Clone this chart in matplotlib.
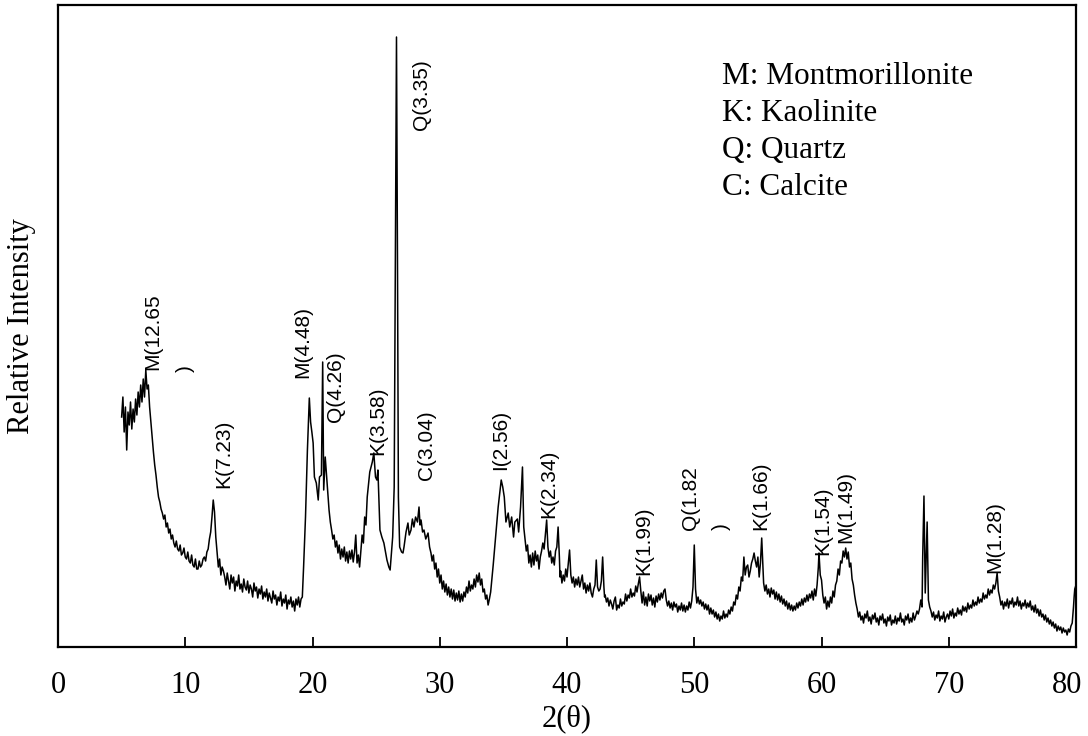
import matplotlib
matplotlib.use("Agg")
import matplotlib.pyplot as plt
import matplotlib.transforms as mtransforms
import numpy as np

# XRD pattern, region by region: (2-theta, intensity)
seg_clay = [
    (5.0, 230), (5.1, 250), (5.2, 215), (5.3, 240), (5.4, 197), (5.5, 235), (5.6, 222), (5.7, 245),
    (5.8, 218), (5.9, 238), (6.0, 225), (6.1, 248), (6.2, 232), (6.3, 255), (6.4, 240), (6.5, 262),
    (6.6, 245), (6.7, 268), (6.8, 250), (6.9, 277), (7.0, 258), (7.1, 262), (7.2, 240), (7.3, 225),
    (7.4, 210), (7.5, 195), (7.6, 182), (7.7, 172), (7.8, 160), (7.9, 150), (8.0, 145), (8.1, 138),
    (8.2, 134), (8.3, 128), (8.4, 132), (8.5, 120), (8.6, 124), (8.7, 114), (8.8, 118), (8.9, 108),
    (9.0, 112), (9.1, 104), (9.2, 100), (9.3, 106), (9.4, 98), (9.5, 96), (9.6, 102), (9.7, 92),
    (9.8, 94), (9.9, 99), (10.0, 90), (10.1, 88), (10.2, 95), (10.3, 86), (10.4, 84), (10.5, 92),
    (10.6, 82), (10.7, 80), (10.8, 88), (10.9, 78), (11.0, 78), (11.1, 86), (11.2, 80), (11.3, 82),
    (11.4, 88), (11.5, 90), (11.6, 86), (11.7, 95), (11.8, 98), (11.9, 108), (12.0, 115), (12.1, 130),
    (12.2, 147), (12.3, 135), (12.4, 110), (12.5, 95), (12.6, 80), (12.7, 88), (12.8, 72), (12.9, 80),
    (13.0, 76),
]
seg_baseline = [
    (13.1, 70), (13.2, 62), (13.3, 74), (13.4, 66), (13.5, 58), (13.6, 72), (13.7, 64), (13.8, 70),
    (13.9, 56), (14.0, 66), (14.1, 61), (14.2, 72), (14.3, 58), (14.4, 63), (14.5, 55), (14.6, 68),
    (14.7, 60), (14.8, 57), (14.9, 66), (15.0, 54), (15.1, 62), (15.2, 58), (15.3, 50), (15.4, 64),
    (15.5, 56), (15.6, 60), (15.7, 49), (15.8, 58), (15.9, 53), (16.0, 61), (16.1, 48), (16.2, 55),
    (16.3, 50), (16.4, 58), (16.5, 46), (16.6, 54), (16.7, 49), (16.8, 44), (16.9, 56), (17.0, 48),
    (17.1, 52), (17.2, 42), (17.3, 50), (17.4, 46), (17.5, 55), (17.6, 41), (17.7, 48), (17.8, 44),
    (17.9, 52), (18.0, 38), (18.1, 47), (18.2, 43), (18.3, 50), (18.4, 40), (18.5, 46), (18.6, 36),
    (18.7, 48), (18.8, 42), (18.9, 50), (19.0, 40), (19.1, 48),
]
seg_main = [
    (19.2, 50), (19.3, 80), (19.45, 130), (19.6, 197), (19.75, 249), (19.85, 225), (19.95, 215),
    (20.05, 204), (20.15, 170), (20.3, 164), (20.45, 147), (20.55, 170), (20.7, 172), (20.8, 285),
    (20.88, 157), (21.0, 190), (21.15, 164), (21.3, 137), (21.4, 125), (21.5, 117), (21.6, 108),
    (21.7, 112), (21.8, 100), (21.9, 106), (22.0, 94), (22.1, 102), (22.2, 88), (22.3, 98), (22.4, 90),
    (22.5, 100), (22.6, 86), (22.7, 95), (22.8, 84), (22.9, 96), (23.0, 88), (23.1, 97), (23.2, 85),
    (23.3, 95), (23.4, 112), (23.5, 84), (23.6, 92), (23.7, 80), (23.8, 96), (23.9, 112), (24.0, 104),
    (24.1, 130), (24.2, 122), (24.3, 150), (24.5, 175), (24.7, 185), (24.82, 194), (24.95, 170),
    (25.06, 167), (25.14, 177), (25.3, 117), (25.45, 110), (25.61, 104), (25.85, 87), (26.0, 80),
    (26.1, 77), (26.3, 110), (26.42, 160), (26.52, 400), (26.6, 610), (26.68, 380), (26.75, 150),
    (26.85, 100), (27.0, 95), (27.11, 94), (27.19, 100), (27.35, 115), (27.5, 124), (27.6, 112),
    (27.74, 117), (27.85, 128), (27.97, 120), (28.1, 130), (28.25, 125), (28.37, 140), (28.45, 122),
    (28.53, 127), (28.65, 115), (28.76, 117), (28.9, 108), (29.08, 114), (29.2, 100), (29.31, 94),
    (29.4, 86), (29.5, 92), (29.6, 78), (29.7, 84), (29.8, 70), (29.9, 78), (30.0, 64), (30.1, 72),
    (30.2, 58), (30.3, 66), (30.4, 55), (30.5, 63), (30.6, 52), (30.7, 60), (30.8, 50), (30.9, 58),
    (31.0, 48), (31.1, 57), (31.2, 46), (31.3, 54), (31.4, 47), (31.5, 56), (31.6, 45), (31.7, 53),
    (31.8, 46), (31.9, 55), (32.0, 50), (32.1, 60), (32.2, 54), (32.3, 66), (32.4, 56), (32.5, 62),
    (32.6, 58), (32.7, 68), (32.8, 60), (32.9, 72), (33.0, 65), (33.1, 74), (33.2, 62), (33.3, 68),
    (33.4, 55), (33.5, 58), (33.6, 48), (33.7, 52), (33.8, 42), (33.9, 48), (34.0, 55), (34.1, 68),
    (34.2, 82),
]
seg_mid = [
    (34.28, 94), (34.45, 120), (34.59, 140), (34.83, 167), (34.95, 160), (35.07, 150), (35.2, 125),
    (35.38, 134), (35.5, 120), (35.65, 130), (35.8, 110), (35.9, 125), (36.1, 128), (36.2, 115),
    (36.35, 140), (36.5, 180), (36.6, 120), (36.7, 108), (36.8, 96), (36.9, 102), (37.0, 84),
    (37.1, 92), (37.2, 80), (37.3, 94), (37.4, 82), (37.5, 96), (37.6, 86), (37.7, 92), (37.8, 78),
    (37.9, 90), (38.0, 96), (38.1, 104), (38.2, 98), (38.3, 112), (38.4, 127), (38.5, 100), (38.6, 90),
    (38.7, 96), (38.8, 84), (38.9, 90), (39.0, 82), (39.1, 96), (39.2, 100), (39.3, 120), (39.4, 90),
    (39.45, 70), (39.5, 76), (39.6, 64), (39.7, 72), (39.8, 66), (39.9, 78), (40.0, 70), (40.1, 84),
    (40.2, 97), (40.3, 72), (40.4, 64), (40.5, 70), (40.6, 60), (40.7, 68), (40.8, 62), (40.9, 70),
    (41.0, 60), (41.1, 66), (41.2, 72), (41.3, 58), (41.4, 64), (41.5, 54), (41.6, 62), (41.7, 56),
    (41.8, 64), (41.9, 54), (42.0, 50), (42.1, 58), (42.2, 62), (42.3, 87), (42.4, 60), (42.5, 56),
    (42.6, 58), (42.7, 66), (42.8, 90), (42.9, 60), (42.95, 50),
    (43.0, 52), (43.1, 45), (43.2, 49), (43.3, 41), (43.4, 47), (43.5, 43), (43.6, 38), (43.7, 46),
    (43.8, 50), (43.9, 37), (44.0, 42), (44.1, 39), (44.2, 48), (44.3, 41), (44.4, 45), (44.5, 43),
    (44.6, 53), (44.7, 46), (44.8, 52), (44.9, 49), (45.0, 58), (45.1, 50), (45.2, 54), (45.3, 51),
    (45.4, 61), (45.5, 55), (45.6, 63), (45.7, 70), (45.8, 56), (45.9, 44), (46.0, 55), (46.1, 42),
    (46.2, 50), (46.3, 41), (46.4, 53), (46.5, 46), (46.6, 52), (46.7, 42), (46.8, 49), (46.9, 40),
    (47.0, 51), (47.1, 45), (47.2, 53), (47.3, 47), (47.4, 54), (47.5, 49), (47.6, 56), (47.7, 58),
    (47.8, 47), (47.9, 41), (48.0, 46), (48.1, 39), (48.2, 44), (48.3, 37), (48.4, 45), (48.5, 40),
    (48.6, 43), (48.7, 35), (48.8, 41), (48.9, 37), (49.0, 44), (49.1, 36), (49.2, 42), (49.3, 35),
    (49.4, 41), (49.5, 37), (49.6, 45), (49.7, 39), (49.8, 46), (49.9, 60), (50.0, 102), (50.1, 58),
    (50.2, 44), (50.3, 50), (50.4, 43), (50.5, 47), (50.6, 41), (50.7, 45), (50.8, 38), (50.9, 43),
    (51.0, 37), (51.1, 42), (51.2, 33), (51.3, 39), (51.4, 33), (51.5, 37), (51.6, 30), (51.7, 35),
    (51.8, 28), (51.9, 33), (52.0, 26), (52.1, 31), (52.2, 28), (52.3, 36), (52.4, 29), (52.5, 33),
    (52.6, 30), (52.7, 37), (52.8, 33), (52.9, 40), (53.0, 36), (53.1, 45), (53.2, 42), (53.3, 52),
    (53.4, 48), (53.5, 60), (53.6, 56), (53.7, 70), (53.8, 66), (53.9, 90), (54.0, 72), (54.1, 80),
    (54.2, 82), (54.3, 70), (54.4, 76), (54.5, 84), (54.6, 88), (54.7, 94), (54.8, 86), (54.9, 80),
    (55.0, 90), (55.1, 70), (55.2, 84), (55.3, 109), (55.45, 64),
]
seg_high = [
    (55.55, 56), (55.65, 62), (55.75, 53), (55.85, 58), (55.95, 50), (56.05, 59), (56.15, 53),
    (56.25, 57), (56.35, 48), (56.45, 55), (56.55, 47), (56.65, 53), (56.75, 45), (56.85, 51),
    (56.95, 43), (57.05, 48), (57.15, 41), (57.25, 46), (57.35, 38), (57.45, 44), (57.55, 37),
    (57.65, 42), (57.75, 36), (57.85, 41), (57.95, 37), (58.05, 44), (58.15, 39), (58.25, 45),
    (58.35, 41), (58.45, 48), (58.55, 42), (58.65, 49), (58.75, 45), (58.85, 52), (58.95, 46),
    (59.05, 53), (59.15, 49), (59.25, 56), (59.35, 47), (59.45, 58), (59.55, 51), (59.65, 62),
    (59.75, 80), (59.8, 94), (59.9, 72), (60.0, 67), (60.1, 52), (60.2, 44), (60.3, 50), (60.4, 38),
    (60.5, 46), (60.6, 40), (60.7, 50), (60.8, 44), (60.9, 56), (61.0, 50), (61.1, 62), (61.2, 66),
    (61.3, 78), (61.4, 72), (61.5, 86), (61.6, 84), (61.7, 96), (61.8, 90), (61.9, 99), (62.0, 88),
    (62.1, 95), (62.2, 80), (62.3, 84), (62.4, 68), (62.5, 62), (62.6, 52), (62.7, 44), (62.8, 38),
    (62.9, 30), (63.0, 35), (63.1, 27), (63.2, 31), (63.3, 24), (63.4, 33), (63.5, 29), (63.6, 36),
    (63.7, 26), (63.8, 30), (63.9, 23), (64.0, 32), (64.1, 28), (64.2, 34), (64.3, 25), (64.4, 29),
    (64.5, 22), (64.6, 31), (64.7, 27), (64.8, 33), (64.9, 24), (65.0, 28), (65.1, 21), (65.2, 30),
    (65.3, 26), (65.4, 32), (65.5, 22), (65.6, 27), (65.7, 24), (65.8, 31), (65.9, 23), (66.0, 29),
    (66.1, 26), (66.2, 34), (66.3, 25), (66.4, 28), (66.5, 22), (66.6, 31), (66.7, 27), (66.8, 33),
    (66.9, 24), (67.0, 29), (67.1, 25), (67.2, 34), (67.3, 27), (67.4, 31), (67.5, 36), (67.6, 33),
    (67.7, 38), (67.8, 47), (67.9, 40), (67.95, 90), (68.05, 151), (68.15, 54), (68.3, 125), (68.4, 47),
    (68.5, 40), (68.6, 36), (68.7, 30), (68.8, 35), (68.9, 27), (69.0, 32), (69.1, 29), (69.2, 36),
    (69.3, 26), (69.4, 31), (69.5, 28), (69.6, 35), (69.7, 25), (69.8, 30), (69.9, 33), (70.0, 28),
    (70.1, 36), (70.2, 31), (70.3, 38), (70.4, 29), (70.5, 34), (70.6, 31), (70.7, 39), (70.8, 33),
    (70.9, 37), (71.0, 32), (71.1, 41), (71.2, 36), (71.3, 40), (71.4, 35), (71.5, 44), (71.6, 38),
    (71.7, 42), (71.8, 39), (71.9, 47), (72.0, 41), (72.1, 45), (72.2, 42), (72.3, 50), (72.4, 44),
    (72.5, 48), (72.6, 45), (72.7, 54), (72.8, 48), (72.9, 52), (73.0, 49), (73.1, 58), (73.2, 52),
    (73.3, 57), (73.4, 54), (73.5, 62), (73.6, 58), (73.7, 64), (73.8, 74), (73.9, 56), (74.0, 50),
    (74.1, 42), (74.2, 46), (74.3, 38), (74.4, 45), (74.5, 41), (74.6, 48), (74.7, 39), (74.8, 46),
    (74.9, 43), (75.0, 49), (75.1, 40), (75.2, 45), (75.3, 42), (75.4, 50), (75.5, 41), (75.6, 46),
    (75.7, 38), (75.8, 44), (75.9, 41), (76.0, 47), (76.1, 39), (76.2, 44), (76.3, 40), (76.4, 46),
    (76.5, 37), (76.6, 41), (76.7, 35), (76.8, 42), (76.9, 34), (77.0, 38), (77.1, 31), (77.2, 37),
    (77.3, 30), (77.4, 33), (77.5, 27), (77.6, 32), (77.7, 25), (77.8, 29), (77.9, 23), (78.0, 27),
    (78.1, 21), (78.2, 25), (78.3, 19), (78.4, 23), (78.5, 16), (78.6, 21), (78.7, 17), (78.8, 20),
    (78.9, 14), (79.0, 19), (79.1, 15), (79.2, 17), (79.3, 12), (79.4, 18), (79.5, 15), (79.6, 21),
    (79.7, 24), (79.8, 40), (79.85, 50), (79.9, 58), (80.0, 62),
]

# peak labels and where they sit (2-theta, intensity)
peak_labels = ["M(12.65", ")", "K(7.23)", "M(4.48)", "Q(4.26)", "K(3.58)", "Q(3.35)", "C(3.04)",
               "I(2.56)", "K(2.34)", "K(1.99)", "Q(1.82", ")", "K(1.66)", "K(1.54)", "M(1.49)", "M(1.28)"]
label_x = [7.47, 9.98, 13.05, 19.25, 21.77, 25.15, 28.53, 28.92,
           34.81, 38.59, 46.05, 49.74, 52.1, 55.25, 60.12, 61.93, 73.63]
label_y = [277, 275, 159, 269, 225, 192, 517, 167,
           177, 129, 72, 117, 117, 117, 92, 104, 74]

legend_lines = ["M: Montmorillonite", "K: Kaolinite", "Q: Quartz", "C: Calcite"]

pattern = seg_clay + seg_baseline + seg_main + seg_mid + seg_high
two_theta = [p[0] for p in pattern]
intensity = [p[1] for p in pattern]

serif = ["Liberation Serif", "DejaVu Serif"]
sans = ["Liberation Sans", "DejaVu Sans"]

fig = plt.figure(figsize=(10.88, 7.36), dpi=100)
ax = fig.add_axes([0.0533, 0.1209, 0.9357, 0.8723])

ax.plot(two_theta, intensity, color="black", linewidth=1.1)

for txt, lx, ly in zip(peak_labels, label_x, label_y):
    ax.text(lx, ly, txt, rotation=90, ha="center", va="bottom",
            fontsize=15, family=sans)

for i, line in enumerate(legend_lines):
    ax.text(52.18, 571 - 37.3 * i, line, ha="left", va="center",
            fontsize=22.5, family=serif)

ax.set_xlim(0, 80)
ax.set_ylim(0, 642)
ax.set_xticks(np.arange(0, 81, 10))
ax.set_yticks([])
ax.tick_params(axis="x", direction="in", length=7, width=1.3, pad=17)
for lab in ax.get_xticklabels():
    lab.set_fontfamily(serif)
    lab.set_fontsize(22)

# last tick label sits a little inside the figure edge, as in the original
last = ax.get_xticklabels()[-1]
last.set_transform(last.get_transform() + mtransforms.ScaledTranslation(-9 / 100, 0, fig.dpi_scale_trans))

for side in ["left", "bottom", "right", "top"]:
    ax.spines[side].set_linewidth(1.6)

ax.set_xlabel("2(θ)", fontsize=22, family=serif, labelpad=3)
ax.set_ylabel("Relative Intensity", fontsize=22, family=serif, labelpad=16)

fig.savefig("out.png", dpi=100)
